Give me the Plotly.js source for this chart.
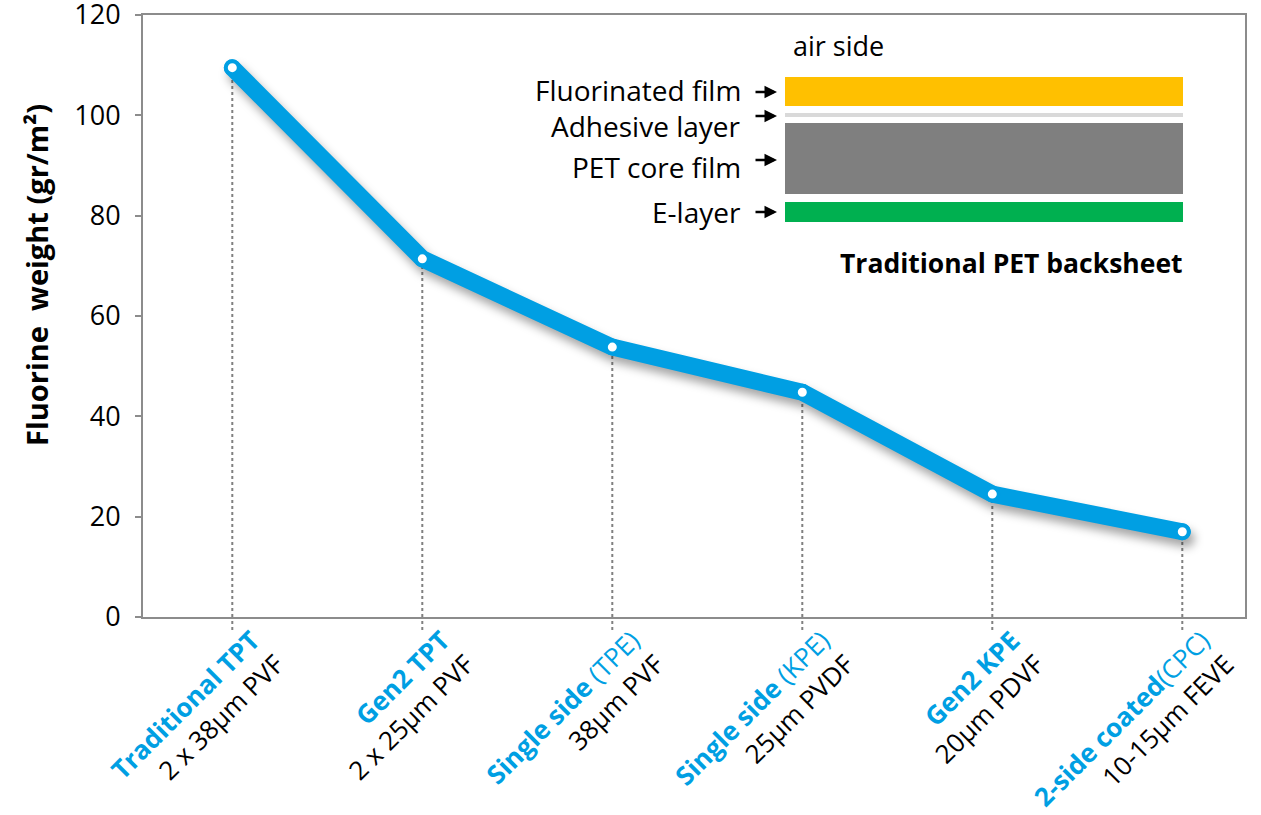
<!DOCTYPE html>
<html>
<head>
<meta charset="utf-8">
<script src="https://cdn.plot.ly/plotly-3.0.1.min.js"></script>
<style>
html,body{margin:0;padding:0;background:#fff;}
#chart{width:1261px;height:815px;}
</style>
</head>
<body>
<div id="chart"></div>
<script>
// ---- data ----
const categoryNames = ["Traditional TPT", "Gen2 TPT", "Single side", "Single side", "Gen2 KPE", "2-side coated"];
const categorySuffix = ["", "", " (TPE)", " (KPE)", "", "(CPC)"];
const materialLabels = ["2 x 38μm PVF", "2 x 25μm PVF", "38μm PVF", "25μm PVDF", "20μm PDVF", "10-15μm FEVE"];
const fluorineWeight = [109.5, 71.4, 53.8, 44.8, 24.5, 17.0];
const yTicks = [0, 20, 40, 60, 80, 100, 120];
const layerLabels = ["Fluorinated film", "Adhesive layer", "PET core film", "E-layer"];
const yTitle = "Fluorine  weight (gr/m²)";

const BLUE = "#009FE3";
const FONT = "Open Sans, Noto Sans, sans-serif";

const xIdx = fluorineWeight.map((_, i) => i);
const tickText = categoryNames.map((n, i) =>
  "<b>" + n + "</b>" + (categorySuffix[i] ? categorySuffix[i] : "") +
  "<br><span style='color:#000000'>" + materialLabels[i] + "</span>");

// pixel -> paper helpers for the inset drawing (plot area 143..1245 x 15..617)
const PL = 143, PR = 1245, PT = 15, PB = 617;
const X = px => (px - PL) / (PR - PL);
const Y = py => (PB - py) / (PB - PT);

const shapes = [];
// dotted drop lines
xIdx.forEach((x, i) => {
  shapes.push({type: "line", xref: "x", yref: "y", x0: x, x1: x, y0: 0, y1: fluorineWeight[i],
    line: {color: "#808080", width: 2, dash: "dot"}, layer: "below"});
  shapes.push({type: "line", xref: "x", yref: "paper", x0: x, x1: x, y0: Y(630), y1: 0,
    line: {color: "#808080", width: 2, dash: "dot"}, layer: "below"});
});
// inset layers
shapes.push({type: "rect", xref: "paper", yref: "paper", x0: X(785), x1: X(1183), y0: Y(106), y1: Y(77),
  fillcolor: "#FFC000", line: {width: 0}});
shapes.push({type: "rect", xref: "paper", yref: "paper", x0: X(785), x1: X(1183), y0: Y(117), y1: Y(113),
  fillcolor: "#D9D9D9", line: {width: 0}});
shapes.push({type: "rect", xref: "paper", yref: "paper", x0: X(785), x1: X(1183), y0: Y(194), y1: Y(123),
  fillcolor: "#7F7F7F", line: {width: 0}});
shapes.push({type: "rect", xref: "paper", yref: "paper", x0: X(785), x1: X(1183), y0: Y(222), y1: Y(202),
  fillcolor: "#00B050", line: {width: 0}});

const labelY = [90, 126, 167, 212];
const arrowY = [92, 116, 160, 212];
const annotations = [];
layerLabels.forEach((t, i) => {
  annotations.push({xref: "paper", yref: "paper", x: X(743), y: Y(labelY[i]), xanchor: "right", yanchor: "middle",
    text: t, showarrow: false, font: {family: FONT, size: 28, color: "#000"}});
  annotations.push({xref: "paper", yref: "paper", x: X(777), y: Y(arrowY[i]), ax: -23, ay: 0,
    text: "", showarrow: true, arrowhead: 2, arrowsize: 1, arrowwidth: 2.5, arrowcolor: "#000"});
});
annotations.push({xref: "paper", yref: "paper", x: X(791), y: Y(46), xanchor: "left", yanchor: "middle",
  text: "air side", showarrow: false, font: {family: FONT, size: 27, color: "#000"}});
annotations.push({xref: "paper", yref: "paper", x: X(1185), y: Y(263), xanchor: "right", yanchor: "middle",
  text: "<b>Traditional PET backsheet</b>", showarrow: false, font: {family: FONT, size: 26.5, color: "#000"}});
// y-axis title (sits above the axis centre in the reference)
annotations.push({xref: "paper", yref: "paper", x: X(36), y: Y(275), xanchor: "center", yanchor: "middle",
  textangle: -90, text: "<b>" + yTitle + "</b>", showarrow: false, font: {family: FONT, size: 29, color: "#000"}});

const trace = {
  x: xIdx, y: fluorineWeight, type: "scatter", mode: "lines+markers",
  line: {color: BLUE, width: 17},
  marker: {size: 13, color: "#FFFFFF", line: {color: BLUE, width: 4}},
  cliponaxis: false, hoverinfo: "skip"
};

const layout = {
  width: 1261, height: 815,
  margin: {l: PL, r: 1261 - PR, t: PT, b: 815 - PB, pad: 0},
  paper_bgcolor: "#fff", plot_bgcolor: "#fff",
  showlegend: false,
  font: {family: FONT, color: "#000"},
  xaxis: {
    range: [-0.47, 5.33], tickvals: xIdx, ticktext: tickText, tickangle: -45,
    tickfont: {family: FONT, size: 26, color: BLUE}, ticklabelshift: 20, ticklabelstandoff: -4,
    ticklabeloverflow: "allow",
    showgrid: false, zeroline: false, showline: true, mirror: true, linecolor: "#8C8C8C", linewidth: 2,
    ticks: "", ticklen: 0
  },
  yaxis: {
    range: [0, 120], tickvals: yTicks, ticks: "outside", ticklen: 6, tickcolor: "#8C8C8C", tickwidth: 2,
    tickfont: {family: FONT, size: 27, color: "#000"}, ticklabelstandoff: 9, ticklabeloverflow: "allow",
    showgrid: false, zeroline: false, showline: true, mirror: true, linecolor: "#8C8C8C", linewidth: 2
  },
  shapes: shapes, annotations: annotations
};

Plotly.newPlot("chart", [trace], layout, {displayModeBar: false, staticPlot: true}).then(() => {
  const p = document.querySelector(".scatterlayer .trace path.js-line");
  if (p) {
    p.style.filter = "drop-shadow(4px 7px 5px rgba(0,0,0,0.35))";
    p.style.strokeLinejoin = "round";
    p.style.strokeLinecap = "round";
  }
});
</script>
</body>
</html>
